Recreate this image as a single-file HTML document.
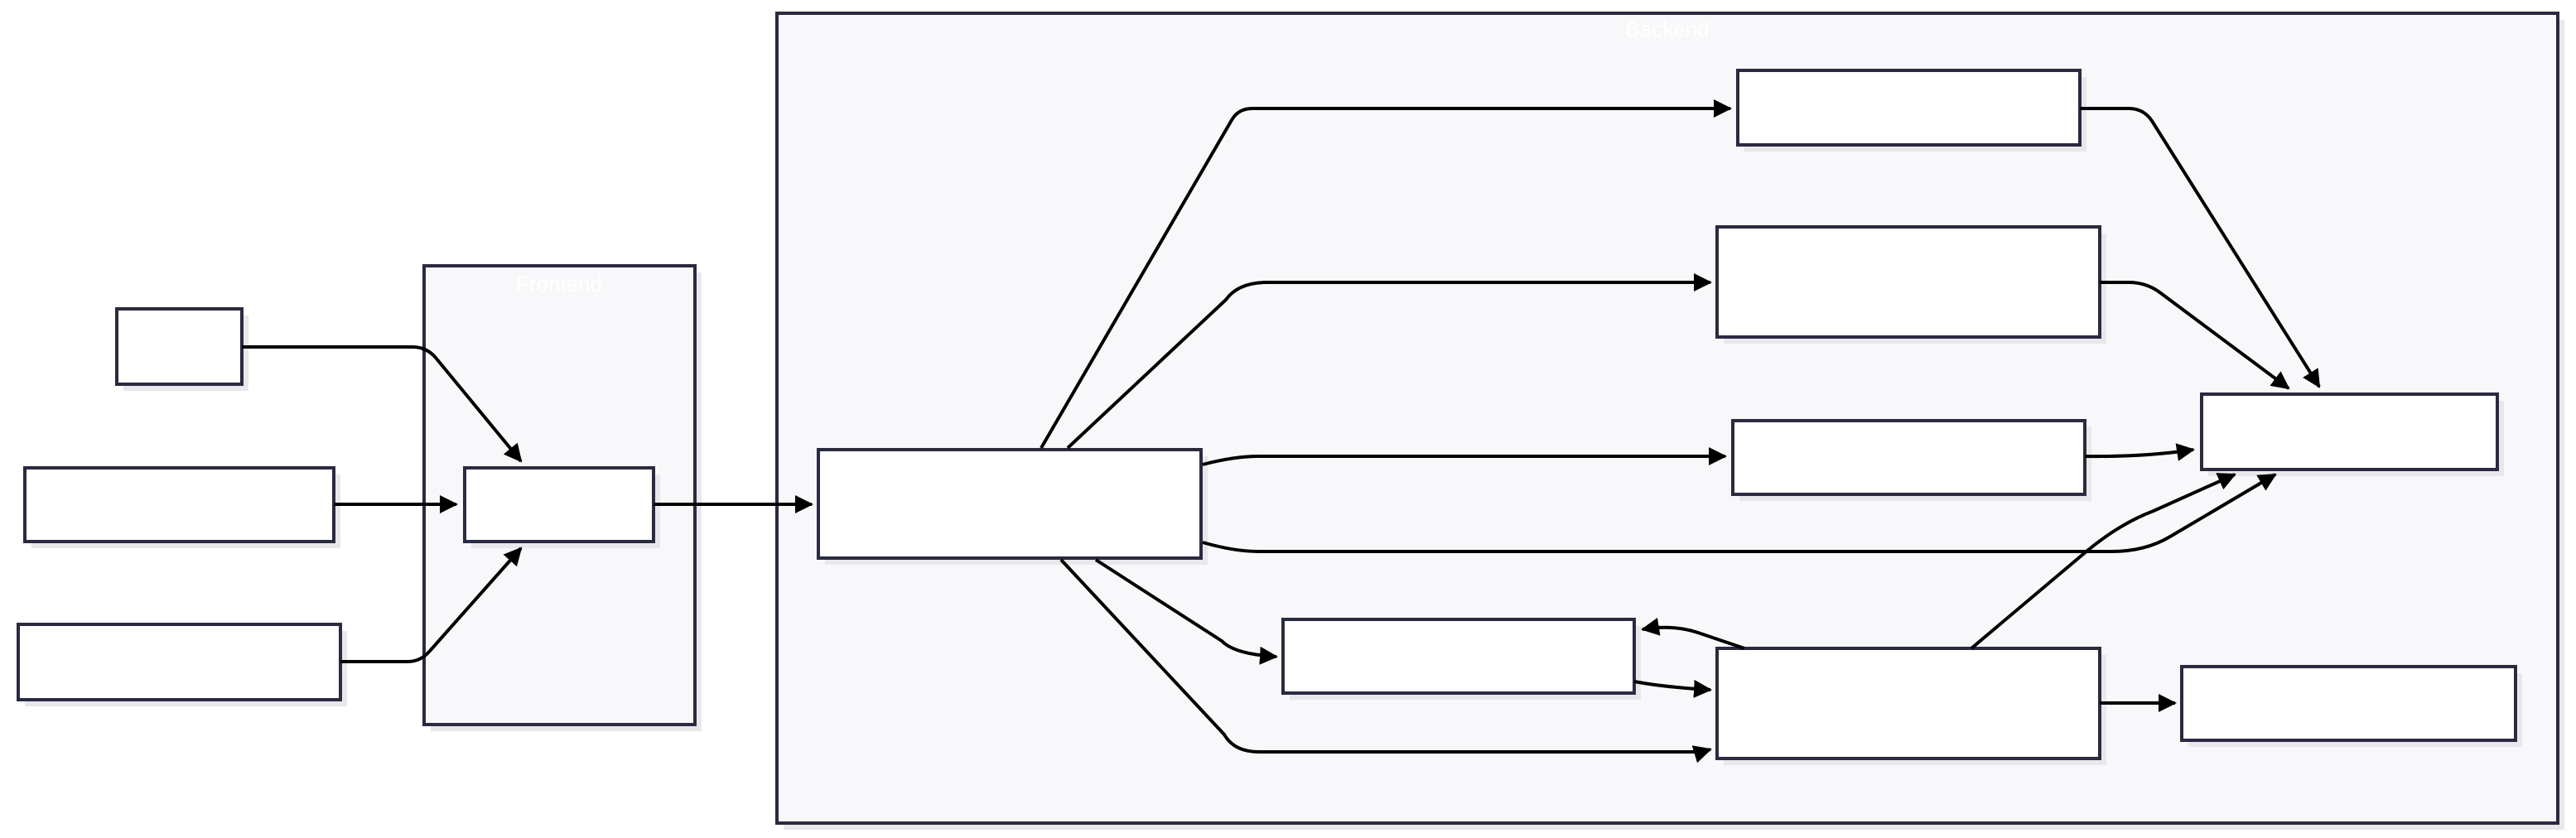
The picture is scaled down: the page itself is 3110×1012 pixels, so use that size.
<!DOCTYPE html>
<html><head><style>
html,body{margin:0;padding:0;background:#fff;}
svg{display:block;}
text{font-family:"Liberation Sans",sans-serif;}
</style></head><body>
<svg width="3110" height="1012" viewBox="0 0 3110 1012" xmlns="http://www.w3.org/2000/svg">
<defs>
<marker id="a" markerWidth="22" markerHeight="22" refX="20" refY="11" orient="auto" markerUnits="userSpaceOnUse">
<path d="M0,0 L22,11 L0,22 Z" fill="#000"/>
</marker>
</defs>
<g fill="#e8e8ec">
<rect x="520" y="329" width="327" height="554"/>
<rect x="946" y="24" width="2150" height="978"/>
</g>
<rect x="512" y="321" width="327" height="554" fill="#f8f8fa" stroke="#2a2a40" stroke-width="4"/>
<rect x="938" y="16" width="2150" height="978" fill="#f8f8fa" stroke="#2a2a40" stroke-width="4"/>
<text x="675" y="352" fill="#fff" font-size="26" text-anchor="middle">Frontend</text>
<text x="2013" y="44" fill="#fff" font-size="26" text-anchor="middle">Backend</text>
<g fill="#e8e8ec">
<rect x="149" y="381" width="151" height="91"/>
<rect x="38" y="573" width="373" height="89"/>
<rect x="30" y="762" width="389" height="91"/>
<rect x="569" y="573" width="228" height="89"/>
<rect x="996" y="551" width="462" height="131"/>
<rect x="2106" y="93" width="413" height="90"/>
<rect x="2081" y="282" width="462" height="133"/>
<rect x="2100" y="516" width="425" height="89"/>
<rect x="2666" y="484" width="357" height="91"/>
<rect x="1557" y="756" width="424" height="89"/>
<rect x="2081" y="791" width="462" height="133"/>
<rect x="2642" y="813" width="403" height="89"/>
</g>
<g fill="#fff" stroke="#2a2a40" stroke-width="4">
<rect x="141" y="373" width="151" height="91"/>
<rect x="30" y="565" width="373" height="89"/>
<rect x="22" y="754" width="389" height="91"/>
<rect x="561" y="565" width="228" height="89"/>
<rect x="988" y="543" width="462" height="131"/>
<rect x="2098" y="85" width="413" height="90"/>
<rect x="2073" y="274" width="462" height="133"/>
<rect x="2092" y="508" width="425" height="89"/>
<rect x="2658" y="476" width="357" height="91"/>
<rect x="1549" y="748" width="424" height="89"/>
<rect x="2073" y="783" width="462" height="133"/>
<rect x="2634" y="805" width="403" height="89"/>
</g>
<g fill="none" stroke="#000" stroke-width="4" marker-end="url(#a)">
<path d="M292,419 L498,419 Q515,419 526,432 L629,557"/>
<path d="M403,609 L551,609"/>
<path d="M411,799 L492,799 Q508,799 519,786 L629,662"/>
<path d="M789,609 L980,609"/>
<path d="M1257,541 L1487,145 Q1495,131 1512,131 L2089,131"/>
<path d="M1289,541 L1480,362 Q1495,341 1530,341 L2065,341"/>
<path d="M1452,561 Q1490,551 1520,551 L2083,551"/>
<path d="M1452,655 Q1490,666 1520,666 L2549,666 Q2590,666 2620,648 L2747,573"/>
<path d="M1323,676 L1475,774 Q1490,790 1541,793"/>
<path d="M1281,676 L1478,887 Q1490,908 1520,908 L2043,908 Q2055,908 2065,905"/>
<path d="M1973,823 Q2010,830 2065,833"/>
<path d="M2106,783 L2050,764 Q2020,754 1983,760"/>
<path d="M2380,783 L2520,665 Q2560,632 2600,617 L2698,573"/>
<path d="M2511,131 L2570,131 Q2588,131 2598,146 L2800,467"/>
<path d="M2535,341 L2570,341 Q2590,341 2606,352 L2763,469"/>
<path d="M2517,551 Q2590,552 2648,543"/>
<path d="M2535,849 L2626,849"/>
</g>
</svg>
</body></html>
